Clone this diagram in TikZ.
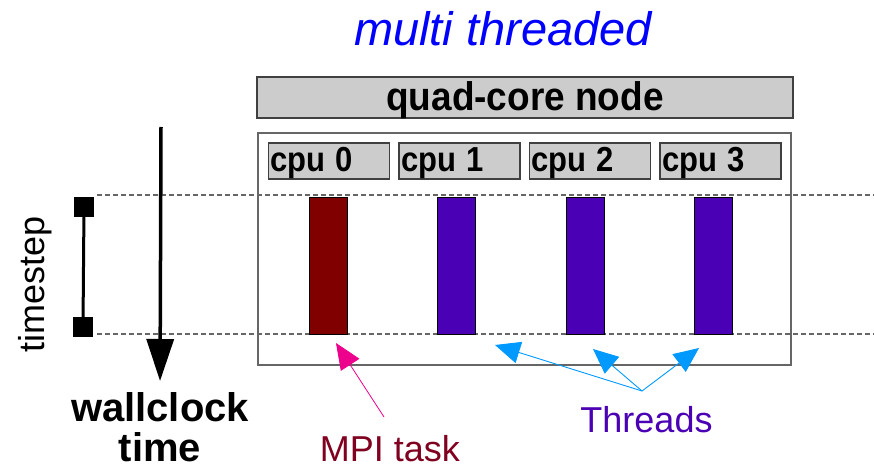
\documentclass[tikz,border=0pt]{standalone}
\usepackage{fontspec}
\setmainfont{Liberation Sans}
\usetikzlibrary{positioning,arrows.meta}
\definecolor{boxgray}{HTML}{CCCCCC}
\definecolor{mpired}{HTML}{800000}
\definecolor{mpitext}{HTML}{800020}
\definecolor{threadviolet}{HTML}{4A00B4}
\definecolor{pointerblue}{HTML}{0099FF}

\begin{document}
\begin{tikzpicture}[
    x=1pt, y=-1pt,
    every node/.style={inner sep=0pt, outer sep=0pt},
    graybox/.style={draw=black!75, fill=boxgray, line width=1.2pt},
    cpubox/.style={graybox, minimum width=121pt, minimum height=36pt, text width=117pt,
        inner xsep=2pt, align=left, text depth=3pt, font=\fontsize{31}{31}\selectfont\bfseries},
    taskbar/.style={draw=black, line width=0.6pt, minimum width=38pt, minimum height=137pt},
    tsmark/.style={fill=black, minimum size=20pt},
    guide/.style={draw=black!60, line width=1.2pt, dash pattern=on 5pt off 3pt},
    pointer/.style={draw=pointerblue, line width=0.9pt, -{Triangle[length=25pt,width=22pt]}}
]
    \useasboundingbox (0,0) rectangle (874,470);

    % Node and cores
    \node[text=blue, anchor=base, font=\fontsize{47}{47}\selectfont\itshape] (title) at (503,46) {multi threaded};
    \node[graybox, minimum width=536pt, minimum height=41pt, text depth=3pt,
        font=\fontsize{37}{37}\selectfont\bfseries] (quad) at (525,97.5) {\scalebox{1}[1.08]{quad-core node}};
    \node[draw=black!60, line width=1.5pt, minimum width=533pt, minimum height=232pt] (board) at (524.5,249) {};
    \foreach \i/\cx in {0/329,1/459.5,2/590,3/720.5}
        \node[cpubox] (cpu\i) at (\cx,161) {\scalebox{1}[1.12]{cpu \i}};

    % Timestep guides
    \coordinate (guidetopL) at (97,195);
    \coordinate (guidetopR) at (874,195);
    \coordinate (guidebotL) at (97,334);
    \coordinate (guidebotR) at (874,334);
    \draw[guide] (guidetopL) -- (guidetopR);
    \draw[guide] (guidebotL) -- (guidebotR);

    % Tasks
    \node[taskbar, fill=mpired] (task0) at (328,265.5) {};
    \foreach \i/\bx in {1/456,2/585,3/713}
        \node[taskbar, fill=threadviolet] (task\i) at (\bx,265.5) {};

    % Wallclock and timestep
    \coordinate (clocktop) at (161,127);
    \node[anchor=north, align=center, font=\fontsize{40}{40}\selectfont\bfseries] (clocklabel) at (160,393) {wallclock\\time};
    \draw[line width=3.5pt, shorten >=12pt, -{Triangle[length=42pt,width=27pt]}] (clocktop) -- (clocklabel.north);
    \node[tsmark] (tstop) at (84,207) {};
    \node[tsmark] (tsbot) at (83,327) {};
    \draw[line width=3pt] (tstop) -- (tsbot);
    \node[rotate=90, anchor=base, font=\fontsize{36}{36}\selectfont] (tslabel) at (44,284) {timestep};

    % Labels
    \node[text=mpitext, anchor=base, font=\fontsize{36}{36}\selectfont] (mpilabel) at (390,461) {MPI task};
    \node[text=threadviolet, anchor=base, font=\fontsize{36}{36}\selectfont] (threadlabel) at (646.5,432) {Threads};
    \coordinate (mpitail) at (384,417);
    \coordinate (mpitip) at (336,343);
    \draw[draw=magenta, line width=0.8pt, -{Triangle[length=26pt,width=22pt]}] (mpitail) -- (mpitip);
    \coordinate (fork) at (642,391);
    \coordinate (tip1) at (495,345);
    \coordinate (tip2) at (593,349);
    \coordinate (tip3) at (699,348);
    \foreach \k in {1,2,3}
        \draw[pointer] (fork) -- (tip\k);
\end{tikzpicture}
\end{document}
